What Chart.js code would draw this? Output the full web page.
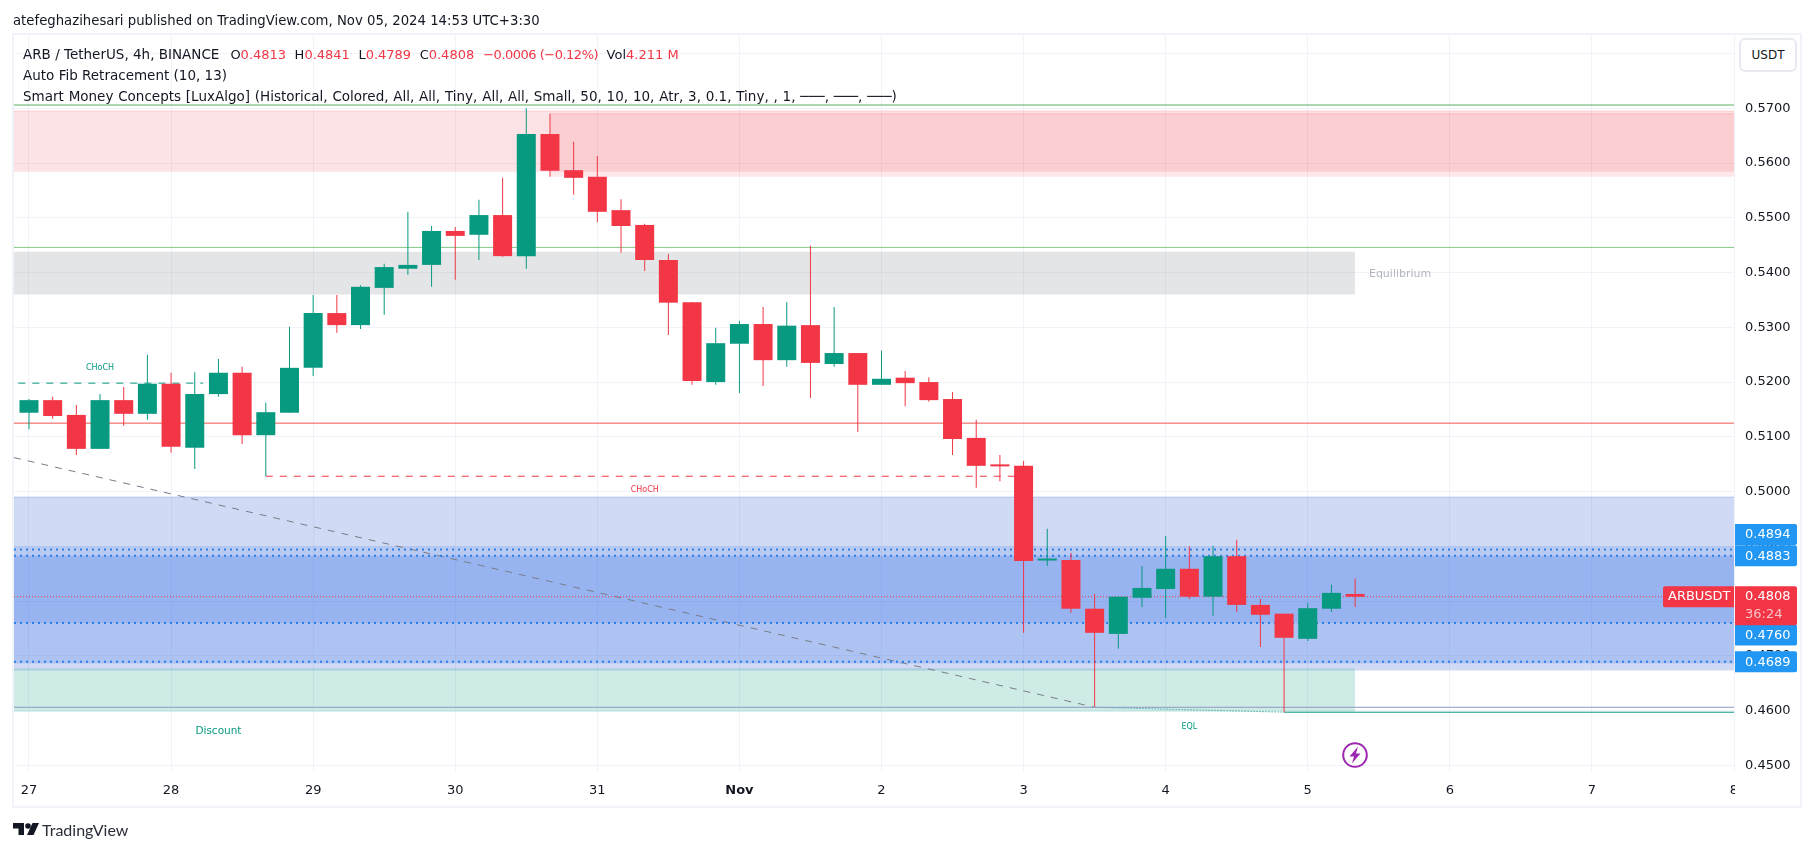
<!DOCTYPE html>
<html>
<head>
<meta charset="utf-8">
<title>ARB / TetherUS</title>
<script src="https://cdn.jsdelivr.net/npm/chart.js@4/dist/chart.umd.min.js"></script>
<style>
body { margin: 0; background: #fff; font-family: "DejaVu Sans", sans-serif; color: #131722; }
#wrap { position: relative; width: 1814px; height: 851px; overflow: hidden; }
#frame { position: absolute; left: 12px; top: 33px; width: 1790px; height: 775px; box-sizing: border-box; border: 2px solid #f0f3fa; }
canvas { position: absolute; left: 0; top: 0; }
.txt { position: absolute; white-space: nowrap; font-size: 13.5px; line-height: 21px; }
.red { color: #f23645; }
.gap { margin-left: 8.5px; font-size: 13px; }
.gap.first { margin-left: 11px; }
.gap.chg { margin-left: 9px; letter-spacing: -0.5px; }
#usdt { position: absolute; left: 1739px; top: 38px; width: 58px; height: 34px; box-sizing: border-box; border: 2px solid #e8eaf1; border-radius: 6px; background: #fff; text-align: center; line-height: 30px; font-size: 12px; }
#cut8 { position: absolute; left: 1735px; top: 776px; width: 20px; height: 28px; background: #fff; }
#tv { position: absolute; left: 42px; top: 820px; font-family: Lato, sans-serif; font-size: 16px; line-height: 20px; color: #2a2e39; }
</style>
</head>
<body>
<div id="wrap">
  <div id="frame"></div>
  <canvas id="grafico" width="1814" height="851"></canvas>
  <div class="txt" style="left:13px;top:10px;font-size:13.25px">atefeghazihesari published on TradingView.com, Nov 05, 2024 14:53 UTC+3:30</div>
  <div class="txt" style="left:23px;top:44px">ARB / TetherUS, 4h, BINANCE<span class="gap first">O<span class="red">0.4813</span></span><span class="gap">H<span class="red">0.4841</span></span><span class="gap">L<span class="red">0.4789</span></span><span class="gap">C<span class="red">0.4808</span></span><span class="gap chg red">−0.0006 (−0.12%)</span><span class="gap">Vol<span class="red">4.211 M</span></span></div>
  <div class="txt" style="left:23px;top:65px">Auto Fib Retracement (10, 13)</div>
  <div class="txt" style="left:23px;top:86px;word-spacing:0.5px">Smart Money Concepts [LuxAlgo] (Historical, Colored, All, All, Tiny, All, All, Small, 50, 10, 10, Atr, 3, 0.1, Tiny, , 1, ───, ───, ───)</div>
  <div id="usdt">USDT</div>
  <div id="cut8"></div>
  <svg style="position:absolute;left:1342px;top:742px" width="26" height="26" viewBox="0 0 26 26">
    <circle cx="13" cy="13" r="11.8" fill="#fff" stroke="#9c27b0" stroke-width="2"/>
    <path d="M16 4.5 L7.5 14.5 H12 L10 21.5 L18.5 11.5 H14 Z" fill="#9c27b0"/>
  </svg>
  <svg style="position:absolute;left:13px;top:823px" width="26" height="13" viewBox="0 0 26 13">
    <path d="M0 0 H11 V12 H5.5 V5.5 H0 Z" fill="#131722"/>
    <circle cx="15" cy="3" r="2.8" fill="#131722"/>
    <path d="M19.5 0 H26 L20.5 12 H14 Z" fill="#131722"/>
  </svg>
  <div id="tv">TradingView</div>
</div>
<script>
// candles, 4h
var opens = [0.5144,0.5167,0.5140,0.5078,0.5167,0.5142,0.5197,0.5080,0.5178,0.5217,0.5103,0.5144,0.5226,0.5326,0.5304,0.5372,0.5407,0.5414,0.5476,0.5469,0.5505,0.5430,0.5653,0.5587,0.5575,0.5514,0.5487,0.5423,0.5346,0.5200,0.5270,0.5306,0.5240,0.5304,0.5233,0.5253,0.5195,0.5208,0.5200,0.5169,0.5098,0.5047,0.5047,0.4874,0.4875,0.4786,0.4740,0.4806,0.4822,0.4859,0.4808,0.4882,0.4793,0.4777,0.4731,0.4786,0.4813];
var highs = [0.5169,0.5173,0.5158,0.5178,0.5191,0.5250,0.5217,0.5218,0.5242,0.5228,0.5162,0.5301,0.5359,0.5359,0.5377,0.5416,0.5511,0.5485,0.5483,0.5533,0.5573,0.5700,0.5690,0.5639,0.5613,0.5534,0.5489,0.5434,0.5346,0.5299,0.5312,0.5337,0.5346,0.5449,0.5337,0.5253,0.5257,0.5220,0.5209,0.5182,0.5131,0.5067,0.5056,0.4932,0.4888,0.4813,0.4809,0.4864,0.4919,0.4900,0.4901,0.4912,0.4804,0.4777,0.4797,0.4830,0.4841];
var lows = [0.5114,0.5133,0.5067,0.5078,0.5120,0.5131,0.5071,0.5041,0.5173,0.5087,0.5028,0.5144,0.5211,0.5290,0.5297,0.5323,0.5396,0.5374,0.5387,0.5423,0.5429,0.5407,0.5575,0.5542,0.5492,0.5436,0.5403,0.5286,0.5195,0.5195,0.5180,0.5193,0.5228,0.5171,0.5228,0.5109,0.5195,0.5156,0.5164,0.5067,0.5007,0.5019,0.4742,0.4864,0.4778,0.4607,0.4713,0.4789,0.4769,0.4804,0.4773,0.4780,0.4716,0.4597,0.4727,0.4780,0.4789];
var closes = [0.5167,0.5138,0.5078,0.5167,0.5142,0.5197,0.5082,0.5178,0.5217,0.5103,0.5145,0.5226,0.5326,0.5304,0.5374,0.5410,0.5414,0.5476,0.5467,0.5505,0.5430,0.5653,0.5586,0.5573,0.5511,0.5485,0.5423,0.5345,0.5202,0.5271,0.5306,0.5240,0.5303,0.5235,0.5253,0.5195,0.5206,0.5198,0.5167,0.5096,0.5047,0.5046,0.4873,0.4875,0.4786,0.4742,0.4808,0.4824,0.4859,0.4808,0.4882,0.4793,0.4775,0.4733,0.4787,0.4815,0.4808];

var priceTicks = [0.45,0.46,0.47,0.48,0.49,0.50,0.51,0.52,0.53,0.54,0.55,0.56,0.57,0.58];
var dayTicks = [0,6,12,18,24,30,36,42,48,54,60,66,72];
var dayLabels = ['27','28','29','30','31','Nov','2','3','4','5','6','7','8'];

// x axis range in candles, y range in price
var xRange = [-0.633, 72];
var yRange = [0.44878, 0.58339];

// [from candle, to candle, top price, bottom price]
var pinkZoneA = [xRange[0], xRange[1], 0.5695, 0.5584];
var pinkZoneB = [22, xRange[1], 0.5690, 0.5575];
var greyZone = [xRange[0], 56, 0.5438, 0.5360];
var fibBase = [xRange[0], xRange[1], 0.4990, 0.4673];
var fibBand1 = [xRange[0], xRange[1], 0.4900, 0.4883];
var fibBand2 = [xRange[0], xRange[1], 0.4883, 0.4760];
var fibBand3 = [xRange[0], xRange[1], 0.4760, 0.4686];
var greenZone = [xRange[0], 56, 0.4677, 0.4598];

// [from candle, to candle, from price, to price]
var strongHigh = [xRange[0], xRange[1], 0.5706, 0.5706];
var midHigh = [xRange[0], xRange[1], 0.5446, 0.5446];
var redLevel = [xRange[0], xRange[1], 0.5125, 0.5125];
var greenChoch = [-0.45, 7.35, 0.5198, 0.5198];
var redChoch = [10, 42, 0.5028, 0.5028];
var diagonal = [xRange[0], 45, 0.5062, 0.4606];
var eqlLine = [45, 53, 0.4606, 0.4597];
var lowLine = [xRange[0], xRange[1], 0.4606, 0.4606];
var weakLow = [53, xRange[1], 0.4597, 0.4597];
var lastLine = [xRange[0], xRange[1], 0.4808, 0.4808];
var fibLevels = [0.4894, 0.4883, 0.4760, 0.4689];

var blueTagLabels = ['0.4894', '0.4883', '0.4760', '0.4689'];
var lastPrice = 0.4808;

var UP = '#089981';
var DOWN = '#f23645';
var FONT = '"DejaVu Sans", sans-serif';

function zone(z, color, border, order) {
    return {
        type: 'line', order: order,
        data: [{x: z[0], y: z[2]}, {x: z[1], y: z[2]}],
        fill: {value: z[3]}, backgroundColor: color,
        borderColor: border, borderWidth: border == 'transparent' ? 0 : 1,
        pointRadius: 0, tension: 0
    };
}

function line(l, color, width, dash, order) {
    return {
        type: 'line', order: order,
        data: [{x: l[0], y: l[2]}, {x: l[1], y: l[3]}],
        borderColor: color, borderWidth: width, borderDash: dash || [],
        pointRadius: 0, fill: false, tension: 0
    };
}

var wickData = [], bodyData = [], candleColors = [];
for (var i = 0; i < opens.length; i++) {
    wickData.push({x: i, y: [lows[i], highs[i]]});
    bodyData.push({x: i, y: [opens[i], closes[i]]});
    candleColors.push(closes[i] >= opens[i] ? UP : DOWN);
}

var datasets = [
    zone(pinkZoneA, 'rgba(242,54,69,0.14)', 'rgba(242,54,69,0.18)', 30),
    zone(pinkZoneB, 'rgba(242,54,69,0.12)', 'rgba(242,54,69,0.18)', 29),
    zone(greyZone, 'rgba(120,123,134,0.2)', 'transparent', 28),
    zone(fibBase, 'rgba(60,100,209,0.24)', 'rgba(60,100,220,0.25)', 27),
    zone(fibBand1, 'rgba(38,98,234,0.14)', 'transparent', 26),
    zone(fibBand2, 'rgba(34,100,233,0.33)', 'transparent', 25),
    zone(fibBand3, 'rgba(38,98,234,0.2)', 'transparent', 24),
    zone(greenZone, 'rgba(8,153,129,0.2)', 'transparent', 23),
    line(strongHigh, '#5cad60', 1, null, 20),
    line(midHigh, '#81c784', 1, null, 19),
    line(redLevel, '#ef5350', 1, null, 18),
    line(greenChoch, UP, 1, [7, 7], 17),
    line(redChoch, DOWN, 1, [7, 7], 16),
    line(diagonal, '#787b86', 1, [7, 7], 15),
    line(eqlLine, UP, 1, [1, 2], 14),
    line(lowLine, '#8f9bc4', 1, null, 13),
    line(weakLow, UP, 1, null, 12),
    line(lastLine, DOWN, 1, [1, 2], 11)
];
for (var f = 0; f < fibLevels.length; f++) {
    datasets.push(line([xRange[0], xRange[1], fibLevels[f], fibLevels[f]], '#2a7fe8', 2, [2, 4], 10));
}
datasets.push({type: 'bar', order: 3, data: wickData, backgroundColor: candleColors, barThickness: 1, grouped: false, inflateAmount: 0});
datasets.push({type: 'bar', order: 2, data: bodyData, backgroundColor: candleColors, barThickness: 19, grouped: false, minBarLength: 2, inflateAmount: 0});

// small labels that sit on the chart: [text, candle, price, color, px]
var chartLabels = [
    ['CHoCH', 3, 0.5226, UP, 8],
    ['CHoCH', 26, 0.5003, DOWN, 8],
    ['Equilibrium', 57.9, 0.5397, '#b2b5be', 11],
    ['Discount', 8, 0.4563, UP, 10.5],
    ['EQL', 49, 0.4570, UP, 8]
];

var overlays = {
    id: 'overlays',
    afterDraw: function(chart) {
        var ctx = chart.ctx, xs = chart.scales.x, ys = chart.scales.y;
        var right = chart.chartArea.right;
        ctx.save();
        ctx.textBaseline = 'middle';
        ctx.textAlign = 'center';
        chartLabels.forEach(function(l) {
            ctx.font = l[4] + 'px ' + FONT;
            ctx.fillStyle = l[3];
            ctx.fillText(l[0], xs.getPixelForValue(l[1]), ys.getPixelForValue(l[2]));
        });

        // price tags on the axis, moved apart the way TradingView does it
        var tagShift = [-15, 0, 12, 0];
        ctx.font = '13px ' + FONT;
        fibLevels.forEach(function(p, n) {
            var y = ys.getPixelForValue(p) + tagShift[n];
            ctx.fillStyle = '#2196f3';
            ctx.beginPath();
            ctx.roundRect(right + 1, y - 10.5, 62, 21, [0, 2, 2, 0]);
            ctx.fill();
            ctx.fillStyle = '#fff';
            ctx.textAlign = 'left';
            ctx.fillText(blueTagLabels[n], right + 11, y + 0.5);
        });

        var yLast = ys.getPixelForValue(lastPrice);
        ctx.fillStyle = DOWN;
        ctx.beginPath();
        ctx.roundRect(right + 1, yLast - 10.5, 62, 39, [0, 2, 2, 0]);
        ctx.fill();
        ctx.beginPath();
        ctx.roundRect(right - 71, yLast - 10.5, 71, 21, [2, 0, 0, 2]);
        ctx.fill();
        ctx.fillStyle = '#fff';
        ctx.fillText(lastPrice.toFixed(4), right + 11, yLast);
        ctx.fillText('ARBUSDT', right - 66, yLast);
        ctx.fillStyle = 'rgba(255,255,255,0.7)';
        ctx.fillText('36:24', right + 11, yLast + 18);
        ctx.restore();
    }
};

new Chart(document.getElementById('grafico'), {
    data: {datasets: datasets},
    plugins: [overlays],
    options: {
        responsive: false,
        animation: false,
        layout: {padding: {left: 14, top: 35, right: 0, bottom: 44}},
        plugins: {legend: {display: false}, tooltip: {enabled: false}},
        scales: {
            x: {
                type: 'linear', min: xRange[0], max: xRange[1], offset: false,
                grid: {color: '#f0f3fa', drawTicks: false, offset: false},
                border: {display: false},
                afterBuildTicks: function(s) { s.ticks = dayTicks.map(function(v) { return {value: v}; }); },
                afterFit: function(s) { s.height = 35; },
                ticks: {
                    autoSkip: false, maxRotation: 0, padding: 11, color: '#131722',
                    font: function(c) {
                        return {family: FONT, size: 13, weight: c.tick && c.tick.label == 'Nov' ? 'bold' : 'normal'};
                    },
                    callback: function(v) { return dayLabels[dayTicks.indexOf(v)]; }
                }
            },
            y: {
                type: 'linear', position: 'right', min: yRange[0], max: yRange[1],
                grid: {color: '#f0f3fa', drawTicks: false},
                border: {display: false},
                afterBuildTicks: function(s) { s.ticks = priceTicks.map(function(v) { return {value: v}; }); },
                afterFit: function(s) { s.width = 80; },
                ticks: {
                    padding: 11, color: '#131722', font: {family: FONT, size: 13},
                    callback: function(v) { return v > 0.575 ? '' : v.toFixed(4); }
                }
            }
        }
    }
});
</script>
</body>
</html>
